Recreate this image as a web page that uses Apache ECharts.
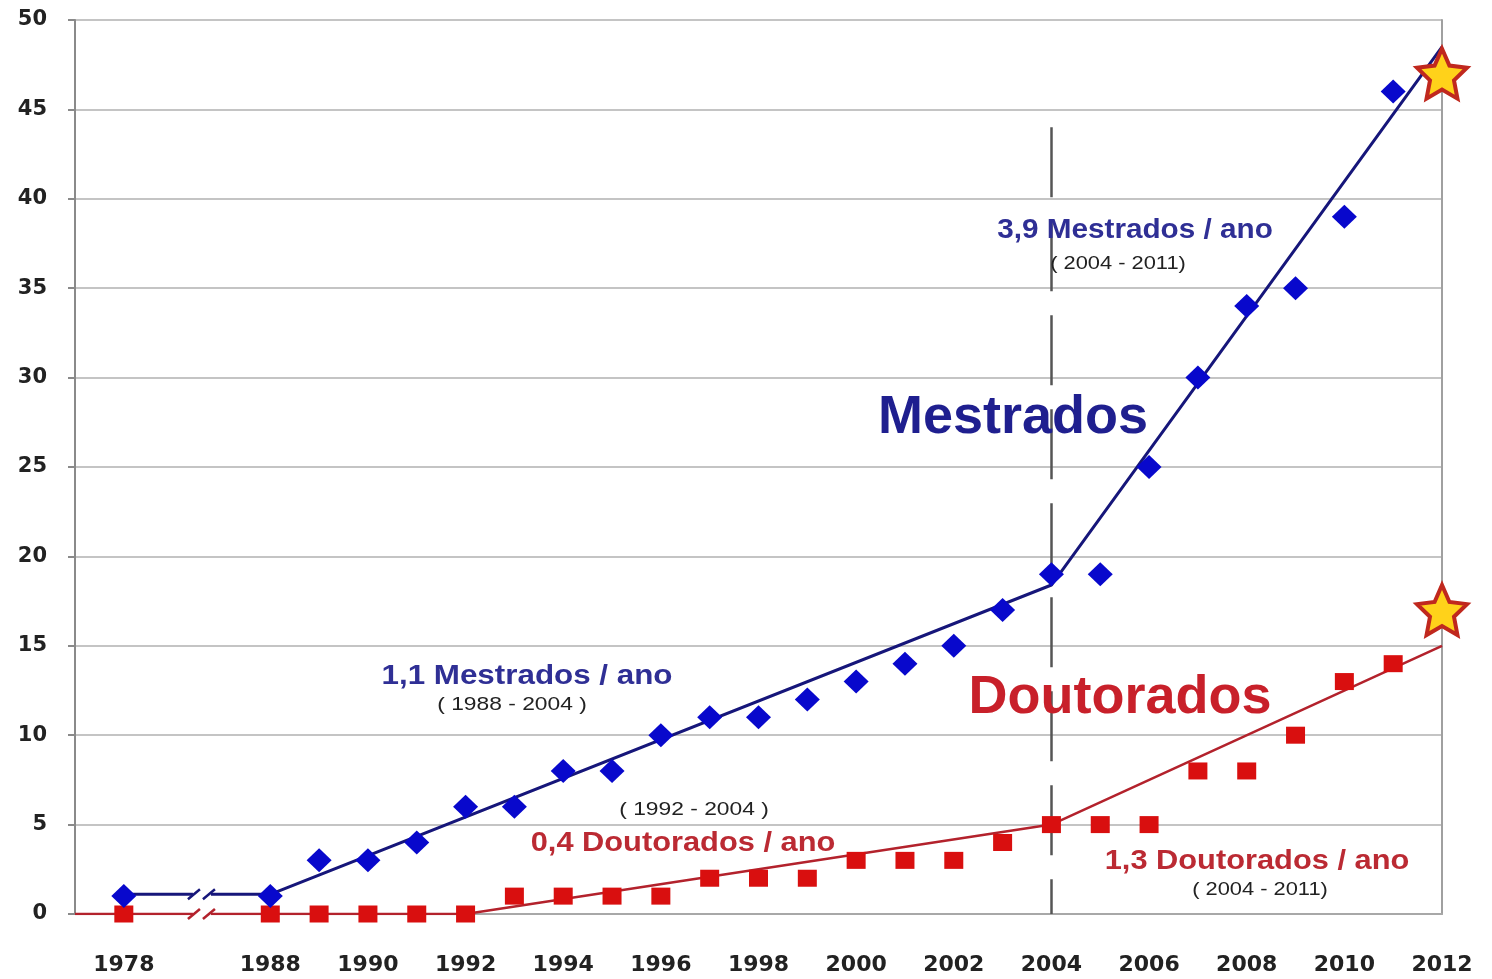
<!DOCTYPE html>
<html>
<head>
<meta charset="utf-8">
<title>Mestrados e Doutorados</title>
<script src="https://cdn.jsdelivr.net/npm/echarts@6/dist/echarts.min.js"></script>
<style>
    html, body { margin: 0; padding: 0; background: #fff; }
    #chart { width: 1492px; height: 979px; }
</style>
</head>
<body>
<div id="chart"></div>
<script>
// eixo x: posição 0 = início do eixo, depois 1978, quebra, 1988..2012
const categories = ['', '1978', '', '', '1988', '1989', '1990', '1991', '1992', '1993', '1994', '1995', '1996',
    '1997', '1998', '1999', '2000', '2001', '2002', '2003', '2004', '2005', '2006', '2007', '2008', '2009',
    '2010', '2011', '2012']

const years = [1978, 1988, 1989, 1990, 1991, 1992, 1993, 1994, 1995, 1996, 1997, 1998, 1999,
    2000, 2001, 2002, 2003, 2004, 2005, 2006, 2007, 2008, 2009, 2010, 2011]
const mestrados = [1, 1, 3, 3, 4, 6, 6, 8, 8, 10, 11, 11, 12, 13, 14, 15, 17, 19, 19, 25, 30, 34, 35, 39, 46]
const doutorados = [0, 0, 0, 0, 0, 0, 1, 1, 1, 1, 2, 2, 2, 3, 3, 3, 4, 5, 5, 5, 8, 8, 10, 13, 14]

// metas 2012 (estrelas)
const metaYear = 2012
const metaMestrados = 47
const metaDoutorados = 17

// retas de tendência [categoria, valor]
const trendMestrados = [['1978', 1.1], ['1988', 1.1], ['2004', 18.4], ['2012', 48.5]]
const trendDoutorados = [['', 0], ['1992', 0], ['2004', 5], ['2012', 15]]

// quebra do eixo entre 1978 e 1988 (nível de cada reta)
const breakLevels = [1.1, 0]
const breakColors = ['#16167a', '#b3222c']

const yTicks = [0, 5, 10, 15, 20, 25, 30, 35, 40, 45, 50]

const idx = (c) => categories.indexOf(String(c))

// estrela
let star = 'path://'
for (let i = 0; i < 10; i++) {
    const r = i % 2 === 0 ? 50 : 24
    const a = Math.PI / 2 + i * Math.PI / 5
    star += (i === 0 ? 'M' : 'L') + (50 + r * Math.cos(a)).toFixed(2) + ',' + (50 - r * Math.sin(a)).toFixed(2)
}
star += 'Z'

const chart = echarts.init(document.getElementById('chart'))

const blueText = '#2f2f95'
const redText = '#bb2a33'
const note = (x, y, text, fill, font, sx) => ({
    type: 'text', x: x, y: y, scaleX: sx, z: 100,
    style: { text: text, fill: fill, font: font, align: 'center', verticalAlign: 'middle' }
})

chart.setOption({
    backgroundColor: '#ffffff',
    animation: false,
    grid: { left: 75, right: 50, top: 20, bottom: 65 },
    xAxis: {
        type: 'category',
        boundaryGap: false,
        data: categories,
        axisLine: { show: true, lineStyle: { color: '#a8a8a8', width: 2 } },
        axisTick: { show: false },
        axisLabel: {
            interval: (i) => i === 1 || (i >= 4 && (i - 4) % 2 === 0),
            color: '#222',
            fontFamily: 'DejaVu Sans',
            fontWeight: 'bold',
            fontSize: 22,
            margin: 40
        },
        splitLine: { show: false }
    },
    yAxis: [
        {
            type: 'value',
            min: yTicks[0],
            max: yTicks[yTicks.length - 1],
            interval: 5,
            axisLine: { show: true, lineStyle: { color: '#8a8a8a', width: 2 } },
            axisTick: { show: true, length: 7, lineStyle: { color: '#8a8a8a', width: 2 } },
            axisLabel: {
                color: '#222',
                fontFamily: 'DejaVu Sans',
                fontWeight: 'bold',
                fontSize: 21,
                margin: 28
            },
            splitLine: { show: true, lineStyle: { color: '#c4c4c4', width: 2 } }
        },
        {
            type: 'value',
            position: 'right',
            min: 0,
            max: 50,
            interval: 5,
            axisLine: { show: true, lineStyle: { color: '#a0a0a0', width: 2 } },
            axisTick: { show: false },
            axisLabel: { show: false },
            splitLine: { show: false }
        }
    ],
    series: [
        {
            name: 'Tendência Doutorados',
            type: 'line',
            data: trendDoutorados.map(p => [idx(p[0]), p[1]]),
            symbol: 'none',
            lineStyle: { color: '#b3222c', width: 2.5 },
            z: 3
        },
        {
            name: 'Tendência Mestrados',
            type: 'line',
            data: trendMestrados.map(p => [idx(p[0]), p[1]]),
            symbol: 'none',
            lineStyle: { color: '#16167a', width: 3 },
            z: 3,
            markLine: {
                silent: true,
                symbol: 'none',
                label: { show: false },
                lineStyle: { color: '#555', width: 2.5, type: [70, 24] },
                data: [[{ coord: [idx(2004), 44] }, { coord: [idx(2004), 0] }]]
            }
        },
        {
            name: 'Quebra',
            type: 'custom',
            renderItem: (params, api) => {
                // entre 1978 e 1988, a 60% do intervalo vazio
                const a = api.coord([2, api.value(0)])
                const b = api.coord([3, api.value(0)])
                const cx = a[0] + (b[0] - a[0]) * 0.6
                const cy = a[1]
                const color = breakColors[params.dataIndex]
                const g = [{ type: 'rect', shape: { x: cx - 9, y: cy - 7, width: 18, height: 14 }, style: { fill: '#fff' } }]
                for (const dx of [-8, 7]) {
                    g.push({
                        type: 'line',
                        shape: { x1: cx + dx - 6, y1: cy + 5, x2: cx + dx + 6, y2: cy - 5 },
                        style: { stroke: color, lineWidth: 2.5 }
                    })
                }
                return { type: 'group', children: g }
            },
            data: breakLevels.map(v => [v]),
            encode: { y: 0 },
            z: 4,
            silent: true
        },
        {
            name: 'Doutorados',
            type: 'scatter',
            data: years.map((y, i) => [idx(y), doutorados[i]]),
            symbol: 'rect',
            symbolSize: [19, 17],
            itemStyle: { color: '#d90f0f', opacity: 1 },
            z: 5
        },
        {
            name: 'Mestrados',
            type: 'scatter',
            data: years.map((y, i) => [idx(y), mestrados[i]]),
            symbol: 'diamond',
            symbolSize: [25, 24],
            itemStyle: { color: '#0808cc', opacity: 1 },
            z: 5
        },
        {
            name: 'Meta 2012',
            type: 'scatter',
            data: [[idx(metaYear), metaMestrados], [idx(metaYear), metaDoutorados]],
            symbol: star,
            symbolSize: 50,
            itemStyle: { color: '#ffd21a', borderColor: '#c0281e', borderWidth: 4, opacity: 1 },
            z: 6
        }
    ],
    graphic: [
        note(1135, 231, '3,9 Mestrados / ano', blueText, 'bold 27px "Liberation Sans"', 1.1),
        note(1118, 264, '( 2004 - 2011)', '#222', '19px "Liberation Sans"', 1.15),
        note(1013, 418, 'Mestrados', '#1f1f8f', 'bold 54px "Liberation Sans"', 1),
        note(1120, 698, 'Doutorados', '#c8202a', 'bold 54px "Liberation Sans"', 1),
        note(527, 676, '1,1 Mestrados / ano', blueText, 'bold 28px "Liberation Sans"', 1.12),
        note(512, 705, '( 1988 - 2004 )', '#222', '19px "Liberation Sans"', 1.2),
        note(694, 810, '( 1992 - 2004 )', '#222', '19px "Liberation Sans"', 1.2),
        note(683, 843, '0,4 Doutorados / ano', redText, 'bold 28px "Liberation Sans"', 1.1),
        note(1257, 861, '1,3 Doutorados / ano', redText, 'bold 28px "Liberation Sans"', 1.1),
        note(1260, 890, '( 2004 - 2011)', '#222', '19px "Liberation Sans"', 1.15)
    ]
})

window.addEventListener('resize', function () {
    chart.resize()
})
</script>
</body>
</html>
